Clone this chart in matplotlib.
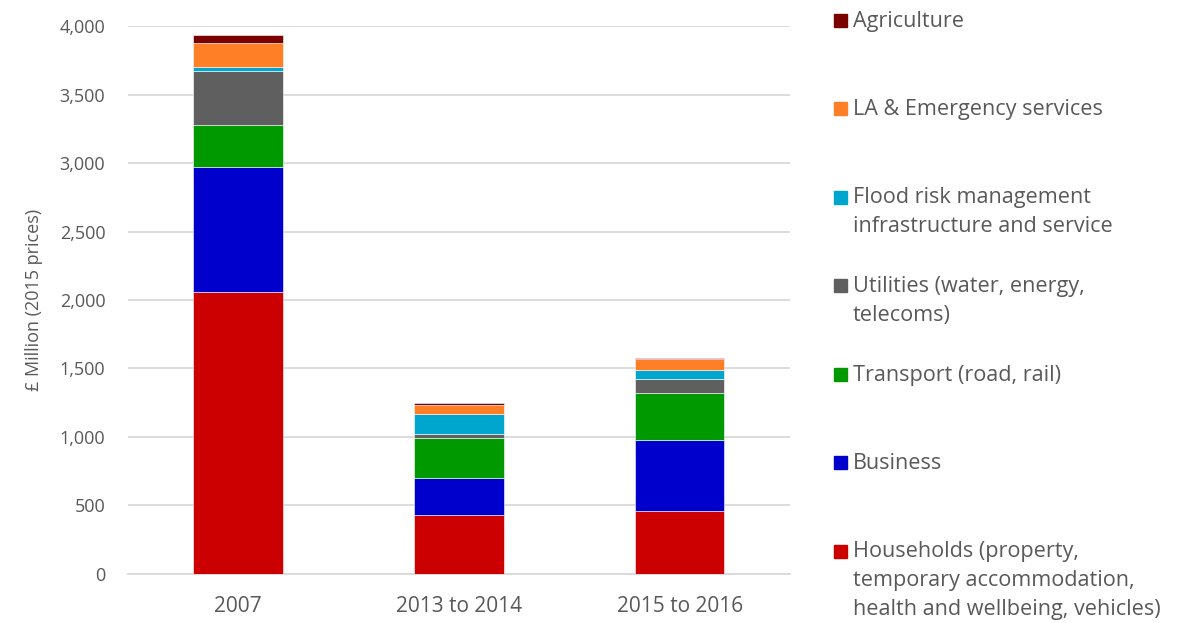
import matplotlib.pyplot as plt
from matplotlib.patches import Rectangle
import numpy as np

plt.rcParams['font.family'] = ['Open Sans', 'DejaVu Sans']

periods = ['2007', '2013 to 2014', '2015 to 2016']

# £ million, 2015 prices
households = [2058, 426, 460]
business = [913, 273, 518]
transport = [306, 296, 341]
utilities = [397, 29, 102]
flood = [27, 146, 70]
la_emergency = [177, 61, 76]
agriculture = [57, 19, 10]

series = [
    ('Households (property,\ntemporary accommodation,\nhealth and wellbeing, vehicles)', households, '#CC0000'),
    ('Business', business, '#0000CC'),
    ('Transport (road, rail)', transport, '#009900'),
    ('Utilities (water, energy,\ntelecoms)', utilities, '#5F5F5F'),
    ('Flood risk management\ninfrastructure and service', flood, '#00A6CE'),
    ('LA & Emergency services', la_emergency, '#FF7F27'),
    ('Agriculture', agriculture, '#7B0000'),
]

txt = '#595959'
fig = plt.figure(figsize=(11.81, 6.23), dpi=100)
ax = fig.add_axes([0.108, 0.079, 0.561, 0.879])

x = np.arange(len(periods))
bottom = np.zeros(len(periods))
for name, vals, col in series:
    ax.bar(x, vals, width=0.405, bottom=bottom, color=col,
           edgecolor='white', linewidth=0.4, zorder=3)
    bottom += np.array(vals)

ax.set_xlim(-0.5, 2.5)
ax.set_ylim(0, 4000)
ax.set_yticks(np.arange(0, 4001, 500))
ax.set_yticklabels([f'{v:,}' for v in range(0, 4001, 500)])
ax.set_xticks(x)
ax.set_xticklabels(periods)
ax.grid(axis='y', color='#D9D9D9', linewidth=1.3, zorder=0)
for s in ['top', 'right', 'left']:
    ax.spines[s].set_visible(False)
ax.spines['bottom'].set_color('#D9D9D9')
ax.spines['bottom'].set_linewidth(1.3)
ax.tick_params(axis='both', length=0, colors=txt)
ax.tick_params(axis='y', labelsize=13, pad=16)
ax.tick_params(axis='x', labelsize=15, pad=16)
ax.set_ylabel('£ Million (2015 prices)', fontsize=13, color=txt, labelpad=12)

# legend, top entry first
W, H = 1181, 623
for i, (name, vals, col) in enumerate(reversed(series)):
    yc = 20 + i * 88.5
    fig.add_artist(Rectangle((834 / W, 1 - (yc + 6.5) / H), 13 / W, 13 / H,
                             transform=fig.transFigure, color=col))
    fig.text(853 / W, 1 - (yc - 9.5) / H, name, fontsize=15.6, color=txt,
             va='top', ha='left', linespacing=1.49)

fig.savefig('out.png', dpi=100)
